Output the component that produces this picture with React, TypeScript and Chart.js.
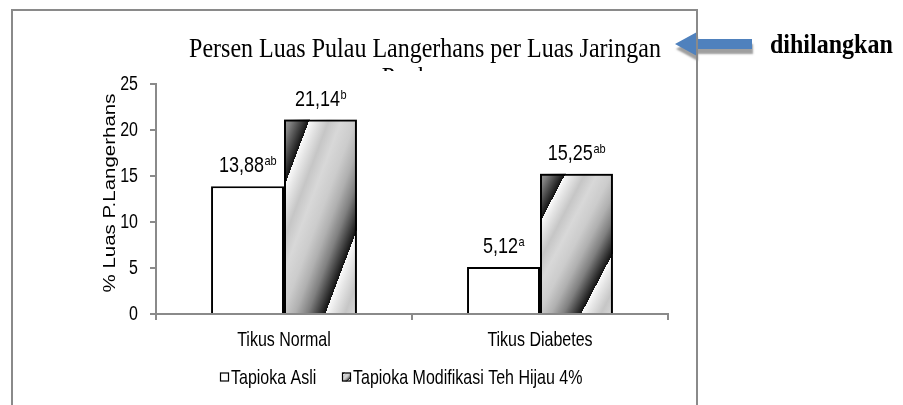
import React, { useEffect, useRef } from 'react';
import { Chart, registerables } from 'chart.js';

Chart.register(...registerables);

// ---- data ----
const categories = ['Tikus Normal', 'Tikus Diabetes'];
const seriesNames = ['Tapioka Asli', 'Tapioka Modifikasi Teh Hijau 4%'];
const asliValues = [13.88, 5.12];
const tehValues = [21.14, 15.25];
const asliLetters = ['ab', 'a'];
const tehLetters = ['b', 'ab'];
const yTicks = [0, 5, 10, 15, 20, 25];
const titleLines = ['Persen Luas Pulau Langerhans per Luas Jaringan', 'Pankreas'];
const noteText = 'dihilangkan';
const yTitle = '% Luas P.Langerhans';

const SANS = "'Liberation Sans', Arial, Helvetica, sans-serif";
const SERIF = "'Liberation Serif', 'Times New Roman', Times, serif";
const AXIS = '#8a8a8a';
const SY = 1.28; // vertical stretch of sans text, as in the reference
const SY_SERIF = 1.15;

// gray profile of one diagonal band (phase 0 = just after sharp edge)
const PROFILE: [number, number][] = [
  [0, 250], [0.08, 230], [0.22, 198], [0.36, 216], [0.52, 204],
  [0.66, 176], [0.8, 128], [0.91, 68], [1, 18],
];
const gray = (v: number) => {
  const n = Math.round(Math.max(0, Math.min(255, v)));
  return `rgb(${n},${n},${n})`;
};
function profileGray(p: number) {
  for (let i = 1; i < PROFILE.length; i++) {
    const [p0, v0] = PROFILE[i - 1];
    const [p1, v1] = PROFILE[i];
    if (p <= p1) return v0 + ((p - p0) / (p1 - p0)) * (v1 - v0);
  }
  return PROFILE[PROFILE.length - 1][1];
}
function stripeGradient(c: CanvasRenderingContext2D, L: number, T: number, W: number, H: number) {
  const gx = 1 / W, gy = 1 / H, g2 = gx * gx + gy * gy, S = 2;
  const grad = c.createLinearGradient(L, T, L + (S * gx) / g2, T + (S * gy) / g2);
  const first = 0.35, period = 1.22;
  const phase = (s: number) => {
    let p = ((s - first) % period) / period;
    if (p < 0) p += 1;
    return p;
  };
  grad.addColorStop(0, gray(profileGray(phase(0))));
  for (let k = -2; k <= 2; k++) {
    for (const [p, v] of PROFILE) {
      const s = first + (k + p) * period;
      if (s > 0 && s < S) grad.addColorStop(s / S, gray(v));
    }
  }
  grad.addColorStop(1, gray(profileGray(phase(S))));
  return grad;
}

const fmt = (v: number) => v.toFixed(2).replace('.', ',');

function drawText(
  c: CanvasRenderingContext2D,
  text: string,
  x: number,
  y: number,
  font: string,
  align: CanvasTextAlign,
  baseline: CanvasTextBaseline,
  sy: number,
  rotate = 0
) {
  c.save();
  c.translate(x, y);
  if (rotate) c.rotate(rotate);
  if (rotate) c.scale(sy, 1);
  else c.scale(1, sy);
  c.font = font;
  c.textAlign = align;
  c.textBaseline = baseline;
  c.fillStyle = '#000';
  c.fillText(text, 0, 0);
  c.restore();
}

const decor = {
  id: 'decor',
  beforeDraw(chart: any) {
    const c = chart.ctx as CanvasRenderingContext2D;
    c.save();
    c.fillStyle = '#ffffff';
    c.fillRect(0, 0, chart.width, chart.height);
    c.restore();
  },
  beforeDatasetDraw(chart: any, args: any) {
    if (args.index !== 1) return;
    const c = chart.ctx as CanvasRenderingContext2D;
    const meta = chart.getDatasetMeta(1);
    meta.data.forEach((bar: any) => {
      const { x, y, base, width } = bar.getProps(['x', 'y', 'base', 'width'], true);
      const L = x - width / 2, T = y, H = base - y;
      c.save();
      c.fillStyle = stripeGradient(c, L, T, width, H);
      c.fillRect(L, T, width, H);
      c.restore();
    });
  },
  afterDatasetsDraw(chart: any) {
    const c = chart.ctx as CanvasRenderingContext2D;
    const sets = [
      { vals: asliValues, sup: asliLetters },
      { vals: tehValues, sup: tehLetters },
    ];
    sets.forEach((s, di) => {
      const meta = chart.getDatasetMeta(di);
      meta.data.forEach((bar: any, i: number) => {
        const { x, y } = bar.getProps(['x', 'y'], true);
        const main = fmt(s.vals[i]);
        const sup = s.sup[i];
        const fMain = `18px ${SANS}`;
        const fSup = `11px ${SANS}`;
        c.save();
        c.font = fMain;
        const w1 = c.measureText(main).width;
        c.font = fSup;
        const w2 = c.measureText(sup).width;
        c.restore();
        const x0 = x - (w1 + w2) / 2;
        const by = y - 14;
        drawText(c, main, x0, by, fMain, 'left', 'alphabetic', 1.18);
        drawText(c, sup, x0 + w1 + 0.5, by - 7, fSup, 'left', 'alphabetic', 1.18);
      });
    });
  },
  afterDraw(chart: any) {
    const c = chart.ctx as CanvasRenderingContext2D;
    const xs = chart.scales.x;
    const ys = chart.scales.y;
    const area = chart.chartArea;

    // axis tick labels (drawn from the scales)
    ys.ticks.forEach((t: any) => {
      const py = ys.getPixelForValue(t.value);
      drawText(c, String(t.value), area.left - 18, py, `16px ${SANS}`, 'right', 'middle', SY);
    });
    categories.forEach((lab, i) => {
      const px = xs.getPixelForValue(i);
      drawText(c, lab, px, area.bottom + 26, `16px ${SANS}`, 'center', 'middle', SY);
    });
    // y axis title
    drawText(
      c,
      yTitle,
      area.left - 45,
      (area.top + area.bottom) / 2 - 6,
      `16px ${SANS}`,
      'center',
      'middle',
      SY,
      -Math.PI / 2
    );

    // title
    c.save();
    drawText(c, titleLines[0], 425, 57, `24px ${SERIF}`, 'center', 'alphabetic', SY_SERIF);
    c.beginPath();
    c.rect(0, 0, chart.width, 71);
    c.clip();
    drawText(c, titleLines[1], 425, 86, `24px ${SERIF}`, 'center', 'alphabetic', SY_SERIF);
    c.restore();

    // arrow
    c.save();
    c.shadowColor = 'rgba(80,80,80,0.55)';
    c.shadowOffsetX = 1;
    c.shadowOffsetY = 5;
    c.shadowBlur = 2;
    c.beginPath();
    c.moveTo(675, 44);
    c.lineTo(697, 32);
    c.lineTo(697, 39);
    c.lineTo(752, 39);
    c.lineTo(752, 49);
    c.lineTo(697, 49);
    c.lineTo(697, 56);
    c.closePath();
    c.fillStyle = '#4f81bd';
    c.fill();
    c.restore();

    // frame
    c.save();
    c.strokeStyle = AXIS;
    c.lineWidth = 2;
    c.beginPath();
    c.moveTo(12, 430);
    c.lineTo(12, 10);
    c.lineTo(697, 10);
    c.lineTo(697, 430);
    c.stroke();
    c.restore();

    // note
    drawText(c, noteText, 770, 53, `bold 24px ${SERIF}`, 'left', 'alphabetic', SY_SERIF);

    // legend
    const ly = 377;
    const box = 9;
    const items = [{ x: 220 }, { x: 342 }];
    items.forEach((it, i) => {
      c.save();
      c.fillStyle = i === 0 ? '#ffffff' : stripeGradient(c, it.x, ly - box / 2, box, box);
      c.fillRect(it.x, ly - box / 2, box, box);
      c.strokeStyle = '#000';
      c.lineWidth = 1.2;
      c.strokeRect(it.x + 0.5, ly - box / 2 + 0.5, box - 1, box - 1);
      c.restore();
      drawText(c, seriesNames[i], it.x + box + 2, ly + 1, `16px ${SANS}`, 'left', 'middle', SY);
    });
  },
};

export default function App() {
  const ref = useRef<HTMLCanvasElement>(null);
  useEffect(() => {
    document.body.style.margin = '0';
    const canvas = ref.current!;
    const chart = new Chart(canvas, {
      type: 'bar',
      data: {
        labels: categories,
        datasets: [
          {
            label: seriesNames[0],
            data: asliValues,
            backgroundColor: '#ffffff',
            borderColor: '#000000',
            borderWidth: 2,
            borderSkipped: 'bottom',
          },
          {
            label: seriesNames[1],
            data: tehValues,
            backgroundColor: 'rgba(0,0,0,0)',
            borderColor: '#000000',
            borderWidth: 2,
            borderSkipped: 'bottom',
          },
        ],
      },
      options: {
        responsive: false,
        animation: false,
        devicePixelRatio: 1,
        layout: { padding: { left: 90, right: 235, top: 84, bottom: 85 } },
        datasets: { bar: { categoryPercentage: 0.57, barPercentage: 1 } } as any,
        plugins: {
          legend: { display: false },
          title: { display: false },
          tooltip: { enabled: false },
        },
        scales: {
          x: {
            grid: {
              offset: true,
              drawOnChartArea: false,
              drawTicks: true,
              tickLength: 6,
              color: AXIS,
              lineWidth: 2,
            },
            border: { color: AXIS, width: 2 },
            ticks: { display: false },
            afterFit: (s: any) => {
              s.height = 6;
            },
          },
          y: {
            min: 0,
            max: 25,
            afterFit: (s: any) => {
              s.width = 66;
            },
            afterBuildTicks: (s: any) => {
              s.ticks = yTicks.map((v) => ({ value: v }));
            },
            grid: {
              drawOnChartArea: false,
              drawTicks: true,
              tickLength: 6,
              color: AXIS,
              lineWidth: 2,
            },
            border: { color: AXIS, width: 2 },
            ticks: { display: false },
          },
        },
      },
      plugins: [decor],
    });
    return () => chart.destroy();
  }, []);
  return <canvas ref={ref} width={903} height={405} style={{ display: 'block' }} />;
}
